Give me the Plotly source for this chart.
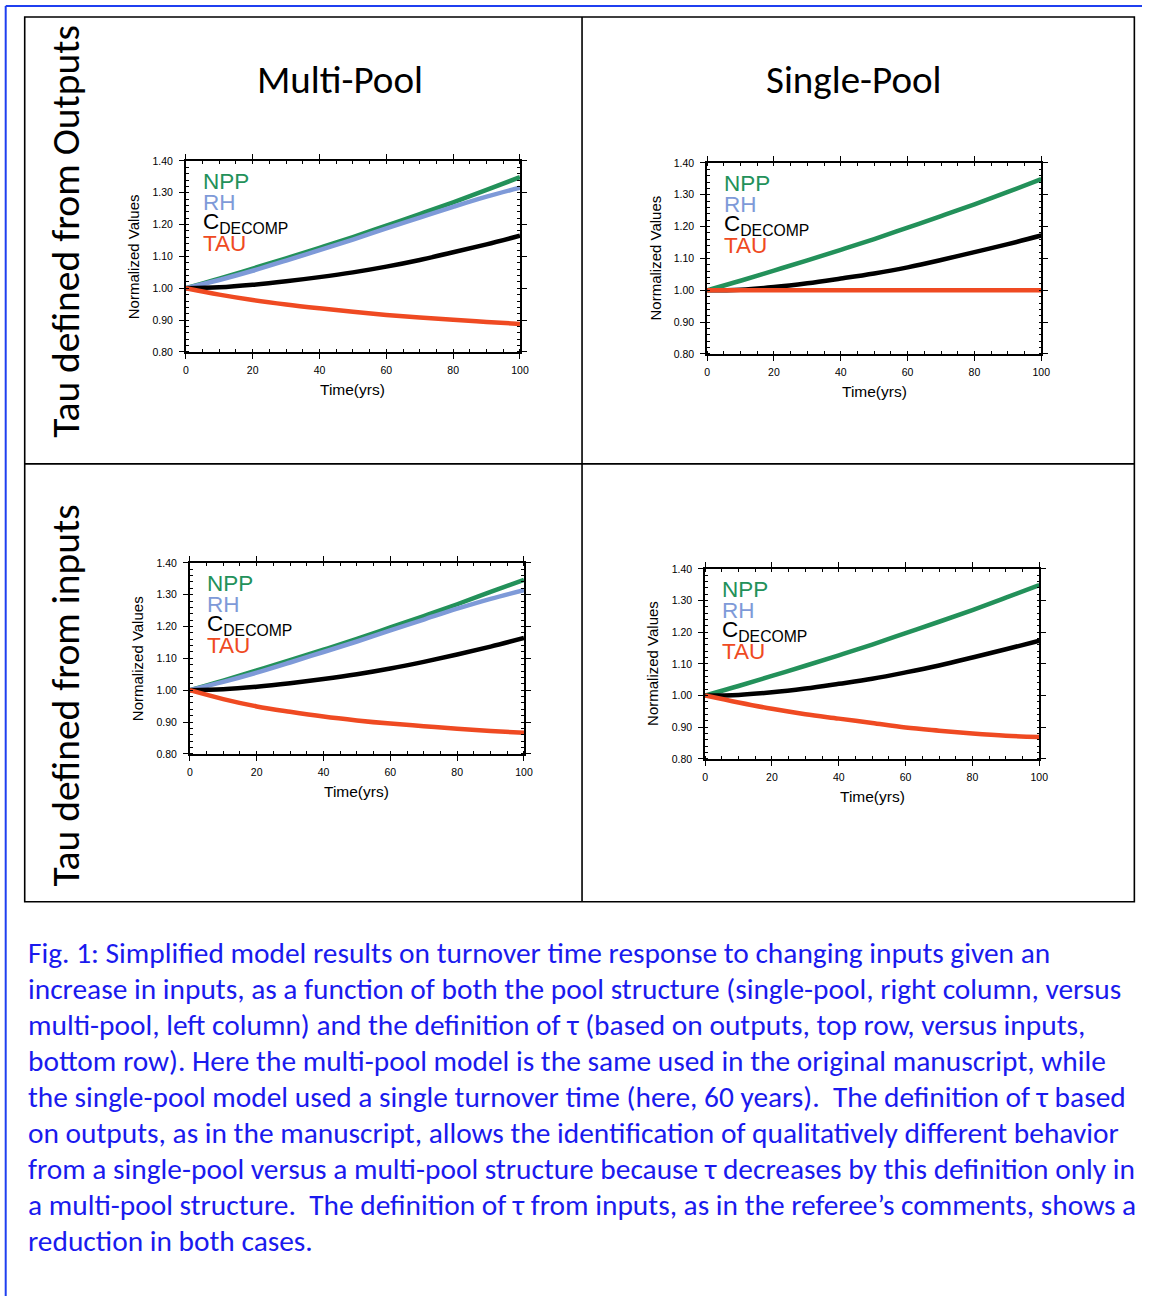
import plotly.graph_objects as go

W, H = 1151, 1302

# ---------------- data ----------------
years = [0, 10, 20, 30, 40, 50, 60, 70, 80, 90, 100]

# Multi-pool, tau from outputs (top-left)
npp_mo = [1.000, 1.030, 1.062, 1.094, 1.127, 1.161, 1.197, 1.233, 1.270, 1.309, 1.349]
rh_mo = [1.000, 1.026, 1.055, 1.087, 1.120, 1.153, 1.188, 1.222, 1.256, 1.288, 1.316]
cdec_mo = [1.000, 1.003, 1.011, 1.022, 1.035, 1.050, 1.068, 1.089, 1.113, 1.138, 1.165]
tau_mo = [1.000, 0.980, 0.963, 0.949, 0.937, 0.926, 0.916, 0.908, 0.901, 0.894, 0.888]

# Single-pool, tau from outputs (top-right)
npp_so = [1.000, 1.030, 1.062, 1.094, 1.127, 1.161, 1.197, 1.233, 1.270, 1.309, 1.349]
cdec_so = [1.000, 1.002, 1.010, 1.022, 1.037, 1.053, 1.072, 1.095, 1.120, 1.145, 1.172]
tau_so = [1.000, 1.000, 1.000, 1.000, 1.000, 1.000, 1.000, 1.000, 1.000, 1.000, 1.000]

# Multi-pool, tau from inputs (bottom-left)
npp_mi = [1.000, 1.030, 1.062, 1.094, 1.127, 1.161, 1.197, 1.233, 1.270, 1.309, 1.347]
rh_mi = [1.000, 1.026, 1.055, 1.087, 1.120, 1.153, 1.188, 1.222, 1.256, 1.287, 1.314]
cdec_mi = [1.000, 1.003, 1.011, 1.022, 1.035, 1.050, 1.068, 1.089, 1.112, 1.137, 1.164]
tau_mi = [1.000, 0.972, 0.949, 0.932, 0.917, 0.905, 0.895, 0.887, 0.879, 0.872, 0.866]

# Single-pool, tau from inputs (bottom-right)
npp_si = [1.000, 1.030, 1.062, 1.094, 1.127, 1.161, 1.197, 1.233, 1.270, 1.309, 1.349]
cdec_si = [1.000, 1.002, 1.010, 1.022, 1.037, 1.053, 1.073, 1.095, 1.120, 1.146, 1.173]
tau_si = [1.000, 0.978, 0.958, 0.941, 0.927, 0.913, 0.899, 0.889, 0.880, 0.873, 0.869]

x_ticks = [0, 20, 40, 60, 80, 100]
y_ticks = [0.80, 0.90, 1.00, 1.10, 1.20, 1.30, 1.40]

col_titles = ["Multi-Pool", "Single-Pool"]
row_titles = ["Tau defined from Outputs", "Tau defined from inputs"]
legend_labels = ["NPP", "RH", "C<sub>DECOMP</sub>", "TAU"]

caption_lines = [
    "Fig. 1: Simplified model results on turnover time response to changing inputs given an",
    "increase in inputs, as a function of both the pool structure (single-pool, right column, versus",
    "multi-pool, left column) and the definition of τ (based on outputs, top row, versus inputs,",
    "bottom row). Here the multi-pool model is the same used in the original manuscript, while",
    "the single-pool model used a single turnover time (here, 60 years).&nbsp; The definition of τ based",
    "on outputs, as in the manuscript, allows the identification of qualitatively different behavior",
    "from a single-pool versus a multi-pool structure because τ decreases by this definition only in",
    "a multi-pool structure.&nbsp; The definition of τ from inputs, as in the referee’s comments, shows a",
    "reduction in both cases.",
]

# ---------------- styling ----------------
C_NPP = "#23915a"
C_RH = "#7e9ad8"
C_CDEC = "#000000"
C_TAU = "#ef4a22"
LEG_COLORS = [C_NPP, C_RH, C_CDEC, C_TAU]
CAP_BLUE = "#1a1aee"
SANS = "Liberation Sans, Arial, Helvetica, sans-serif"
HUM = "Calibri, Carlito, Lato, sans-serif"

# small correction for how the page is photographed
SX, CX = 0.989, 3.3
SY, CY = 0.991, 6.0


def px(x):
    return ((x - CX) / SX) / W


def py(y):
    return 1 - ((y - CY) / SY) / H


def ann(x, y, text, size, color="black", family=SANS, xanchor="center", angle=0):
    return dict(x=px(x), y=py(y), xref="paper", yref="paper", text=text, showarrow=False,
                xanchor=xanchor, yanchor="middle", textangle=angle,
                font=dict(family=family, size=size, color=color))


# panel pixel boxes: (left, right, top, bottom)
panels = [
    dict(box=(186, 520, 161, 352), series=[(npp_mo, C_NPP), (rh_mo, C_RH), (cdec_mo, C_CDEC), (tau_mo, C_TAU)]),
    dict(box=(707, 1041, 163, 354), series=[(npp_so, C_NPP), (cdec_so, C_CDEC), (tau_so, C_TAU)]),
    dict(box=(190, 524, 563, 754), series=[(npp_mi, C_NPP), (rh_mi, C_RH), (cdec_mi, C_CDEC), (tau_mi, C_TAU)]),
    dict(box=(705, 1039, 569, 759), series=[(npp_si, C_NPP), (cdec_si, C_CDEC), (tau_si, C_TAU)]),
]

fig = go.Figure()
layout = dict(
    width=W, height=H, margin=dict(l=0, r=0, t=0, b=0),
    paper_bgcolor="white", plot_bgcolor="white", showlegend=False,
)
annotations = []
shapes = []

for i, p in enumerate(panels):
    l, r, t, b = p["box"]
    k = "" if i == 0 else str(i + 1)
    xa, ya = "x" + k, "y" + k
    for vals, col in p["series"]:
        fig.add_trace(go.Scatter(x=years, y=vals, mode="lines", xaxis=xa, yaxis=ya,
                                 line=dict(color=col, width=4.5, shape="spline"),
                                 hoverinfo="skip"))
    common = dict(showline=True, linecolor="black", linewidth=1.6, mirror="allticks",
                  ticks="outside", ticklen=5, tickwidth=1.4, tickcolor="black",
                  showgrid=False, zeroline=False,
                  tickfont=dict(family=SANS, size=10.5, color="black"))
    layout["xaxis" + k] = dict(common, domain=[px(l), px(r)], anchor=ya, range=[0, 100],
                               tickvals=x_ticks, ticktext=[str(v) for v in x_ticks],
                               minor=dict(dtick=5, tick0=0, ticks="inside", ticklen=3,
                                          tickwidth=1, tickcolor="black"),
                               ticklabelstandoff=3)
    layout["yaxis" + k] = dict(common, domain=[py(b), py(t)], anchor=xa, range=[0.8, 1.4],
                               tickvals=y_ticks, ticktext=["%.2f" % v for v in y_ticks],
                               minor=dict(dtick=0.02, tick0=0.8, ticks="inside", ticklen=3,
                                          tickwidth=1, tickcolor="black"),
                               ticklabelstandoff=4)
    # axis titles
    annotations.append(ann((l + r) / 2, b + 38, "Time(yrs)", 15.5))
    annotations.append(ann(l - 52, (t + b) / 2, "Normalized Values", 15, angle=-90))
    # in-plot legend text
    for j, (lab, col) in enumerate(zip(legend_labels, LEG_COLORS)):
        annotations.append(ann(l + 15, t + 21 + 20.5 * j, lab, 22.5, color=col, xanchor="left"))

# column and row titles
for txt, cx in zip(col_titles, [340, 853]):
    annotations.append(ann(cx, 80, txt, 39, family=HUM))
for txt, cy in zip(row_titles, [231, 696]):
    annotations.append(ann(66, cy, txt, 39.5, family=HUM, angle=-90))

# caption
for j, line in enumerate(caption_lines):
    annotations.append(ann(26, 953 + 36 * j, line, 29.4, color=CAP_BLUE, family=HUM, xanchor="left"))

# table grid
line_k = dict(color="black", width=1.6)
shapes.append(dict(type="rect", xref="paper", yref="paper", x0=px(25), x1=px(1134),
                   y0=py(902), y1=py(17), line=line_k))
shapes.append(dict(type="line", xref="paper", yref="paper", x0=px(582), x1=px(582),
                   y0=py(902), y1=py(17), line=line_k))
shapes.append(dict(type="line", xref="paper", yref="paper", x0=px(25), x1=px(1134),
                   y0=py(464), y1=py(464), line=line_k))
# blue page border
line_b = dict(color="#1f3ff0", width=2)
shapes.append(dict(type="line", xref="paper", yref="paper", x0=px(6), x1=1,
                   y0=py(6), y1=py(6), line=line_b))
shapes.append(dict(type="line", xref="paper", yref="paper", x0=px(6), x1=px(6),
                   y0=0, y1=py(6), line=line_b))

layout["annotations"] = annotations
layout["shapes"] = shapes
fig.update_layout(**layout)
fig.write_html("out.html", config={"displayModeBar": False},
               post_script="document.body.style.margin='0px';document.body.style.overflow='hidden';")
